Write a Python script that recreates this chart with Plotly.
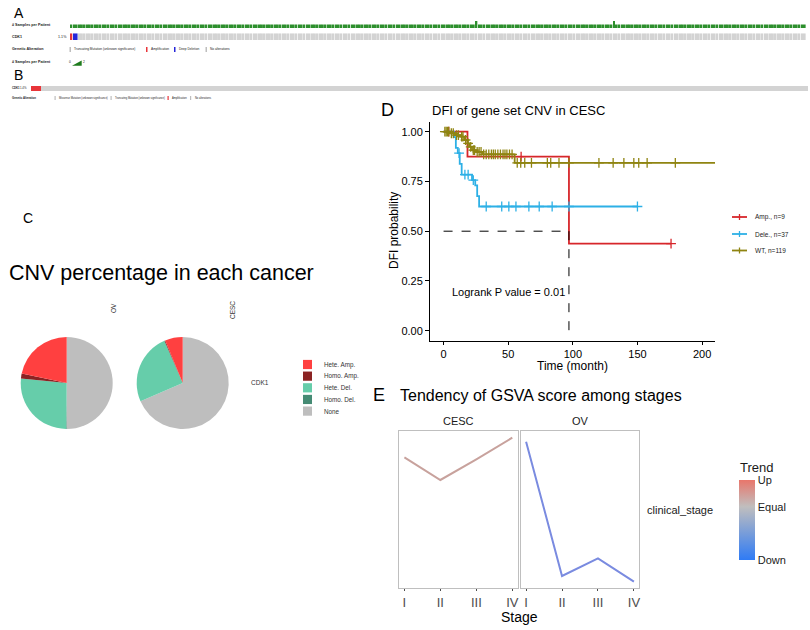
import plotly.graph_objects as go

W, H = 810, 630
def px(x): return x / W
def py(y): return 1 - y / H

FONT = "Liberation Sans, Arial, sans-serif"

# ---------------- DATA ----------------
# Panel A: oncoprint (CESC)
a_n_patients = 278
a_two_sample_patients = [153, 205]          # patients with 2 samples
a_altered = {0: "amp", 1: "deep_del", 2: "deep_del"}
a_pct_label = "1.1%"
# Panel B: oncoprint (OV)
b_n_patients = 585
b_amp_patients = [0, 1, 2, 3, 4, 5, 6, 7]
b_pct_label = "1.4%"

# Panel C: CNV pies
cnv_types = ["Hete. Amp.", "Homo. Amp.", "Hete. Del.", "Homo. Del.", "None"]
cnv_colors = ["#FF4040", "#8B2323", "#66CDAA", "#458B74", "#BEBEBE"]
ov_pct = [21.7, 1.7, 26.4, 0.2, 50.0]
cesc_pct = [6.2, 0.3, 25.0, 0.0, 68.5]

# Panel D: KM curves (step times / survival)
amp_t = [0, 18.5, 97, 176]
amp_s = [1.0, 0.875, 0.4375, 0.4375]
amp_cens = [4, 60, 176]
dele_t = [0, 8, 9.5, 11, 12.5, 14, 22, 24.5, 26, 27.5, 150]
dele_s = [1.0, 0.973, 0.919, 0.892, 0.838, 0.784, 0.757, 0.730, 0.676, 0.624, 0.624]
dele_cens = [12, 16.5, 19, 23, 33, 45, 50.5, 56, 66, 74, 84, 97, 150]
wt_t = [0, 5, 9, 13, 16, 18.5, 20, 22, 25, 30, 55, 210]
wt_s = [1.0, 0.992, 0.983, 0.975, 0.958, 0.941, 0.924, 0.907, 0.898, 0.886, 0.843, 0.843]
wt_cens = [1, 2, 3, 4, 6, 7.5, 10, 11.5, 14, 15, 17, 19, 21, 23, 24, 26, 27.5, 29,
           31, 33, 35, 37, 38.5, 40, 42, 44, 46, 47.5, 49, 51, 53, 57, 59.7, 62.8,
           68, 80.3, 82.9, 89.3, 97, 120.2, 131.2, 139.5, 147.2, 151, 157.5, 179.3]
km_names = ["Amp., n=9", "Dele., n=37", "WT, n=119"]
km_colors = ["#D7262B", "#2DB0E6", "#8F8411"]
x_ticks = [0, 50, 100, 150, 200]
y_ticks = [0, 0.25, 0.5, 0.75, 1.0]

# Panel E: GSVA tendency
stages = ["I", "II", "III", "IV"]
cesc_gsva = [0.157, 0.089, 0.151, 0.216]
ov_gsva = [0.204, -0.199, -0.146, -0.216]
cesc_line_color = "#C8A29D"
ov_line_color = "#7A8BE0"

# ---------------- FIGURE ----------------
fig = go.Figure()

def step_val(ts, ss, t):
    v = ss[0]
    for ti, si in zip(ts, ss):
        if ti <= t:
            v = si
    return v

# KM curves
for ts, ss, cens, col in [(amp_t, amp_s, amp_cens, km_colors[0]),
                          (dele_t, dele_s, dele_cens, km_colors[1]),
                          (wt_t, wt_s, wt_cens, km_colors[2])]:
    fig.add_trace(go.Scatter(x=ts, y=ss, mode="lines", line=dict(color=col, width=1.8, shape="hv"),
                             xaxis="x", yaxis="y", hoverinfo="skip"))
    fig.add_trace(go.Scatter(x=cens, y=[step_val(ts, ss, c) for c in cens], mode="markers",
                             marker=dict(symbol="cross-thin", size=7, line=dict(color=col, width=1.3)),
                             xaxis="x", yaxis="y", hoverinfo="skip"))

amp_median_t = amp_t[2]

# Pies (drawn clockwise from 12 o'clock with reversed order == ggplot's anticlockwise stacking)
for vals, x0, x1 in [(ov_pct, 20.7, 112.7), (cesc_pct, 136.7, 228.7)]:
    fig.add_trace(go.Pie(labels=cnv_types[::-1], values=vals[::-1], sort=False, direction="clockwise",
                         rotation=0, marker=dict(colors=cnv_colors[::-1], line=dict(width=0)),
                         textinfo="none", showlegend=False,
                         domain=dict(x=[px(x0), px(x1)], y=[py(429), py(337)])))

# GSVA lines
fig.add_trace(go.Scatter(x=[1, 2, 3, 4], y=cesc_gsva, mode="lines",
                         line=dict(color=cesc_line_color, width=2), xaxis="x2", yaxis="y2"))
fig.add_trace(go.Scatter(x=[1, 2, 3, 4], y=ov_gsva, mode="lines",
                         line=dict(color=ov_line_color, width=2), xaxis="x3", yaxis="y3"))
# colorbar holder
fig.add_trace(go.Scatter(x=[2.5], y=[0], mode="markers", xaxis="x3", yaxis="y3", hoverinfo="skip",
                         marker=dict(size=1, opacity=0, color=[0], cmin=-2, cmax=1,
                                     colorscale=[[0, "#2F7BF5"], [0.667, "#C0BEBE"], [1, "#E8766B"]],
                                     showscale=True,
                                     colorbar=dict(x=px(739), xanchor="left", xpad=0, ypad=0,
                                                   y=py(520), yanchor="middle",
                                                   len=80, lenmode="pixels",
                                                   thickness=16, thicknessmode="pixels",
                                                   outlinewidth=0, ticks="",
                                                   tickvals=[1, 0, -2], ticktext=["Up", "Equal", "Down"],
                                                   tickfont=dict(size=11, color="#1a1a1a")))))

# Oncoprint A
green = "#2D8F2D"
samples = [2 if i in a_two_sample_patients else 1 for i in range(a_n_patients)]
fig.add_trace(go.Bar(x=list(range(a_n_patients)), y=samples, width=0.72, marker=dict(color=green, line=dict(width=0)),
                     xaxis="x4", yaxis="y4", hoverinfo="skip"))
alt_col = {"amp": "#E8353A", "deep_del": "#2626D9"}
a_colors = [alt_col[a_altered[i]] if i in a_altered else "#D3D3D3" for i in range(a_n_patients)]
fig.add_trace(go.Bar(x=list(range(a_n_patients)), y=[1] * a_n_patients, width=0.72,
                     marker=dict(color=a_colors, line=dict(width=0)),
                     xaxis="x5", yaxis="y5", hoverinfo="skip"))
b_colors = ["#E8353A" if i in b_amp_patients else "#D3D3D3" for i in range(b_n_patients)]
fig.add_trace(go.Bar(x=list(range(b_n_patients)), y=[1] * b_n_patients, width=0.8,
                     marker=dict(color=b_colors, line=dict(width=0)),
                     xaxis="x6", yaxis="y6", hoverinfo="skip"))

hidden = dict(visible=False, fixedrange=True)
e_x = dict(range=[0.85, 4.15], tickvals=[1, 2, 3, 4], ticktext=stages, showline=True, mirror=True,
           linecolor="#BFBFBF", linewidth=1, ticks="outside", ticklen=2, tickcolor="#4D4D4D",
           tickfont=dict(size=13, color="#4D4D4D"), showgrid=False, zeroline=False)
e_y = dict(range=[-0.236, 0.236], showline=True, mirror=True, linecolor="#BFBFBF", linewidth=1,
           showticklabels=False, ticks="", showgrid=False, zeroline=False)

fig.update_layout(
    width=W, height=H, margin=dict(l=0, r=0, t=0, b=0),
    paper_bgcolor="white", plot_bgcolor="white", showlegend=False,
    font=dict(family=FONT, color="black"),
    xaxis=dict(domain=[px(430), px(715)], range=[-10.5, 210], tickvals=x_ticks,
               showline=True, linecolor="black", linewidth=1, ticks="outside", ticklen=3,
               tickcolor="black", tickfont=dict(size=11, color="black"), showgrid=False,
               zeroline=False, anchor="y"),
    yaxis=dict(domain=[py(340.7), py(121.7)], range=[-0.05, 1.05], tickvals=y_ticks,
               tickformat=".2f", showline=True, linecolor="black", linewidth=1, ticks="outside",
               ticklen=4, tickcolor="black", tickfont=dict(size=11, color="black"),
               showgrid=False, zeroline=False, anchor="x"),
    xaxis2=dict(domain=[px(399), px(517.7)], anchor="y2", **e_x),
    yaxis2=dict(domain=[py(588.3), py(431)], anchor="x2", **e_y),
    xaxis3=dict(domain=[px(520.7), px(639.3)], anchor="y3", **e_x),
    yaxis3=dict(domain=[py(588.3), py(431)], anchor="x3", **e_y),
    xaxis4=dict(domain=[px(70), px(806)], range=[-0.5, a_n_patients - 0.5], anchor="y4", **hidden),
    yaxis4=dict(domain=[py(28), py(21)], range=[0, 2], anchor="x4", **hidden),
    xaxis5=dict(domain=[px(70), px(806)], range=[-0.5, a_n_patients - 0.5], anchor="y5", **hidden),
    yaxis5=dict(domain=[py(40), py(33.3)], range=[0, 1], anchor="x5", **hidden),
    xaxis6=dict(domain=[px(31), px(808)], range=[-0.5, b_n_patients - 0.5], anchor="y6", **hidden),
    yaxis6=dict(domain=[py(91), py(86)], range=[0, 1], anchor="x6", **hidden),
)

shapes = []
ann = []

def text(x, y, s, size, xanchor="left", color="black", angle=0, family=FONT):
    ann.append(dict(x=px(x), y=py(y), xref="paper", yref="paper", text=s, showarrow=False,
                    xanchor=xanchor, yanchor="middle", textangle=angle,
                    font=dict(size=size, color=color, family=family)))

def rect(x0, y0, x1, y1, color):
    shapes.append(dict(type="rect", xref="paper", yref="paper", x0=px(x0), x1=px(x1),
                       y0=py(y1), y1=py(y0), fillcolor=color, line=dict(width=0)))

# ---- Panel A text ----
text(12, 13, "A", 14)
text(10, 25.5, "<b># Samples per Patient</b>", 3.7, color="#222")
text(10, 37, "<b>CDK1</b>", 3.7, color="#222")
text(68.5, 37, a_pct_label, 3.7, xanchor="right", color="#222")
text(10, 49.5, "<b>Genetic Alteration</b>", 3.7, color="#222")
a_leg = [(69.5, "#BEBEBE", "Truncating Mutation (unknown significance)"),
         (146, "#E8353A", "Amplification"), (174, "#2626D9", "Deep Deletion"),
         (205.5, "#BEBEBE", "No alterations")]
for x, c, s in a_leg:
    rect(x, 47, x + 1.5, 52, c)
    text(x + 2.8, 49.5, s, 3.2, color="#222")
text(10, 62.5, "<b># Samples per Patient</b>", 3.7, color="#222")
shapes.append(dict(type="path", xref="paper", yref="paper",
                   path=f"M {px(72)},{py(65.7)} L {px(81.7)},{py(65.7)} L {px(81.7)},{py(60.5)} Z",
                   fillcolor="#1E7B1E", line=dict(width=0)))
text(70, 62.5, "0", 3.2, xanchor="center", color="#222")
text(83.5, 62.5, "2", 3.2, xanchor="center", color="#222")

# ---- Panel B text ----
text(12, 75, "B", 14)
text(10, 88.5, "<b>CDK1</b>", 2.8, color="#222")
text(29, 88.5, b_pct_label, 2.8, xanchor="right", color="#222")
text(10, 98, "<b>Genetic Alteration</b>", 2.8, color="#222")
b_leg = [(54.5, "#BEBEBE", "Missense Mutation (unknown significance)"),
         (110.5, "#BEBEBE", "Truncating Mutation (unknown significance)"),
         (167.5, "#E8353A", "Amplification"), (190, "#BEBEBE", "No alterations")]
for x, c, s in b_leg:
    rect(x, 96, x + 1.2, 100, c)
    text(x + 2.5, 98, s, 2.6, color="#222")

# ---- Panel C text ----
text(21, 218, "C", 14)
text(7, 273, "CNV percentage in each cancer", 21.5)
text(113, 308, "OV", 6.5, xanchor="center", angle=-90, color="#333")
text(232, 310, "CESC", 6.5, xanchor="center", angle=-90, color="#333")
text(249, 383, "CDK1", 6.5, color="#333")
for i, (lab, col) in enumerate(zip(cnv_types, cnv_colors)):
    yc = 364.5 + i * 11.65
    rect(303, yc - 4.6, 312, yc + 4.6, col)
    text(321.5, yc, lab, 6.3, color="#333")

# ---- Panel D text ----
text(379, 110, "D", 18)
text(430, 110, "DFI of gene set CNV in CESC", 13)
text(394, 231, "DFI probability", 12, xanchor="center", angle=-90)
text(572.7, 366, "Time (month)", 12, xanchor="center")
ann.append(dict(x=amp_median_t - 1.2, y=0.195, xref="x", yref="y", text="Logrank P value = 0.01",
                showarrow=False, xanchor="right", yanchor="middle", font=dict(size=11, family=FONT)))
shapes.append(dict(type="line", xref="x", yref="y", x0=0, x1=amp_median_t, y0=0.5, y1=0.5,
                   line=dict(color="black", width=1, dash="dash")))
shapes.append(dict(type="line", xref="x", yref="y", x0=amp_median_t, x1=amp_median_t, y0=0.5, y1=0,
                   line=dict(color="black", width=1, dash="dash")))
for i, (nm, col) in enumerate(zip(km_names, km_colors)):
    yc = [217, 234, 250.5][i]
    shapes.append(dict(type="line", xref="paper", yref="paper", x0=px(732), x1=px(747),
                       y0=py(yc), y1=py(yc), line=dict(color=col, width=1.8)))
    shapes.append(dict(type="line", xref="paper", yref="paper", x0=px(739.5), x1=px(739.5),
                       y0=py(yc - 3), y1=py(yc + 3), line=dict(color=col, width=1.3)))
    text(752.7, yc, nm, 6.5, color="#222")

# ---- Panel E text ----
text(371, 395, "E", 18)
text(398, 395, "Tendency of GSVA score among stages", 16)
text(458, 421, "CESC", 11, xanchor="center", color="#1a1a1a")
text(580, 421, "OV", 11, xanchor="center", color="#1a1a1a")
text(519, 617, "Stage", 14, xanchor="center")
text(645, 510, "clinical_stage", 11, color="#1a1a1a")
text(738, 467, "Trend", 13, color="#1a1a1a")

fig.update_layout(shapes=shapes, annotations=ann)
fig.write_html("out.html", config={"displayModeBar": False},
               post_script="document.body.style.margin='0px';document.body.style.overflow='hidden';")
